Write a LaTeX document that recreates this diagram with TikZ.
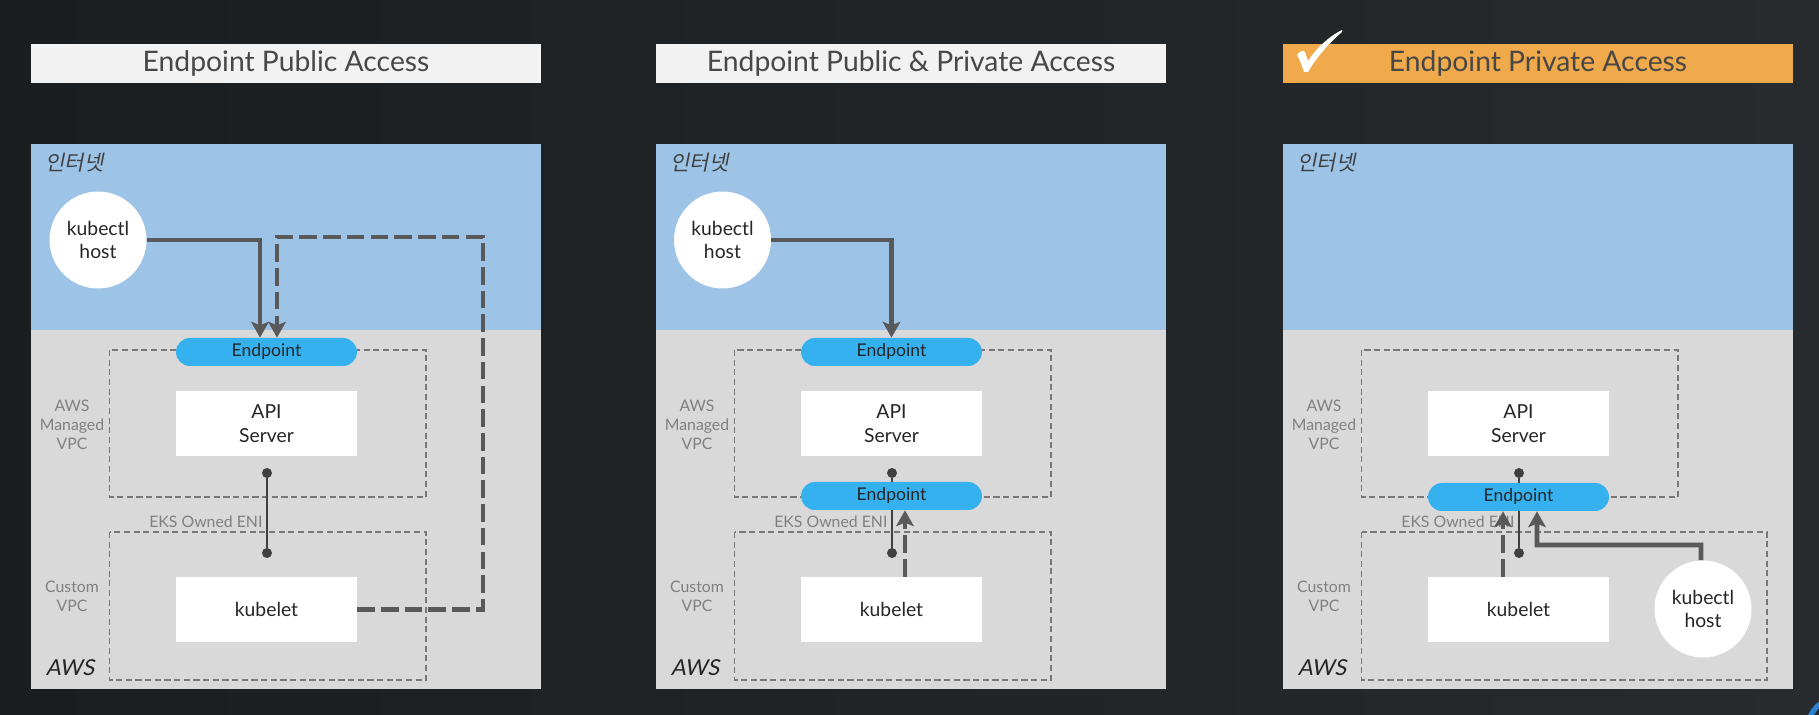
\documentclass[tikz,border=0pt]{standalone}
\usepackage{fontspec}
\setmainfont{Lato}
\newfontfamily\krfont{Noto Sans CJK KR}[FakeSlant=0.2]
\newfontfamily\slfont{Lato}[FakeSlant=0.2]
\usetikzlibrary{arrows.meta,shapes.misc}
\definecolor{bgleft}{HTML}{1B1D1F}
\definecolor{bgright}{HTML}{272B2D}
\definecolor{titlegray}{HTML}{F2F2F2}
\definecolor{titleorange}{HTML}{F0A94B}
\definecolor{skyblue}{HTML}{9DC3E6}
\definecolor{awsgray}{HTML}{D9D9D9}
\definecolor{pillblue}{HTML}{36B1EF}
\definecolor{arrowgray}{HTML}{595959}
\definecolor{boxline}{HTML}{777777}
\definecolor{labelgray}{HTML}{808080}
\definecolor{textdark}{HTML}{262626}
\definecolor{dotgray}{HTML}{404040}
\definecolor{ringblue}{HTML}{2F7FD0}

\begin{document}
\begin{tikzpicture}[x=0.02cm,y=-0.02cm,
    titlebar/.style={fill=titlegray,minimum width=10.2cm,minimum height=0.78cm,inner sep=0pt,
        text=textdark!85,font=\fontsize{16.1}{18}\selectfont},
    vpc/.style={draw=boxline,line width=0.6pt,dash pattern=on 3.5pt off 2pt},
    graylabel/.style={text=labelgray,align=center,inner sep=0pt,font=\fontsize{9}{10.8}\selectfont},
    whitebox/.style={fill=white,minimum width=3.62cm,minimum height=1.3cm,inner sep=0pt,
        align=center,text=textdark,font=\fontsize{11}{13.6}\selectfont},
    endpoint/.style={rounded rectangle,fill=pillblue,minimum width=3.62cm,minimum height=0.56cm,
        inner sep=0pt,text=textdark,font=\fontsize{10}{12}\selectfont},
    host/.style={circle,fill=white,minimum size=1.94cm,inner sep=0pt,align=center,
        text=textdark,font=\fontsize{11}{13}\selectfont},
    dot/.style={circle,fill=dotgray,minimum size=0.2cm,inner sep=0pt},
    link/.style={draw=dotgray,line width=0.6pt},
    flow/.style={draw=arrowgray,line width=2.8pt,-{Stealth[length=9pt,width=10pt,inset=2pt]}},
    flowdash/.style={flow,dash pattern=on 10pt off 3.5pt}]
    \useasboundingbox (0,0) rectangle (1819,715);
    \fill[left color=bgleft,right color=bgright] (0,0) rectangle (1819,715);
    \draw[ringblue,line width=3pt] (1838,728) circle (30);

    \node[titlebar] (t1) at (286,63.5) {Endpoint Public Access};
    \node[titlebar] (t2) at (911,63.5) {Endpoint Public \& Private Access};
    \node[titlebar,fill=titleorange] (t3) at (1538,63.5) {Endpoint Private Access};
    \fill[white] (1297,55) .. controls (1300,51) and (1303,50) .. (1305,52) -- (1308,61)
        .. controls (1318,46) and (1330,36) .. (1342,30) -- (1342,32)
        .. controls (1329,43) and (1316,58) .. (1308,72) -- (1304,72)
        .. controls (1302,66) and (1300,60) .. cycle;

    \foreach \p/\dx/\w in {1/31/395,2/656/395,3/1283/484} {
        \begin{scope}[shift={(\dx,0)}]
            \fill[skyblue] (0,144) rectangle (510,330);
            \fill[awsgray] (0,330) rectangle (510,689);
            \node[anchor=west,inner sep=0pt,text=dotgray,font=\krfont\fontsize{12}{14}\selectfont] (net\p) at (14,163) {인터넷};
            \draw[vpc] (78.5,350) rectangle (395,497);
            \draw[vpc] (78.5,532) rectangle (\w,680);
            \node[graylabel] (mvpc\p) at (41,425) {AWS\\Managed\\VPC};
            \node[graylabel] (cvpc\p) at (41,596) {Custom\\VPC};
            \node[graylabel,anchor=west] (eni\p) at (118,522) {EKS Owned ENI};
            \node[inner sep=0pt,text=textdark,font=\slfont\fontsize{12.5}{14}\selectfont] (aws\p) at (39,668) {AWS};
            \node[whitebox] (api\p) at (235.5,423.5) {API\\Server};
            \node[whitebox] (kub\p) at (235.5,609.5) {kubelet};
            \node[dot] (dta\p) at (236,473) {};
            \node[dot] (dtb\p) at (236,553) {};
            \draw[link] (dta\p) -- (dtb\p);
        \end{scope}
    }

    \node[endpoint] (ep1) at (266.5,352) {Endpoint};
    \node[endpoint] (ep2) at (891.5,352) {Endpoint};
    \node[endpoint] (ep2b) at (891.5,496) {Endpoint};
    \node[endpoint] (ep3) at (1518.5,497) {Endpoint};

    \node[host] (host1) at (98,240) {kubectl\\host};
    \node[host] (host2) at (722.5,240) {kubectl\\host};
    \node[host] (host3) at (1703,609) {kubectl\\host};

    \coordinate (turn1) at (483,237);
    \coordinate (bend3) at (1537,545);
    \draw[flow] (host1.east) -| ([xshift=-0.13cm]ep1.north);
    \draw[flowdash] (kub1.east) -| (turn1) -| ([xshift=0.21cm]ep1.north);
    \draw[flow] (host2.east) -| (ep2.north);
    \draw[flowdash] ([xshift=0.27cm]kub2.north) -- ([xshift=0.27cm]ep2b.south);
    \draw[flowdash] ([xshift=-0.31cm]kub3.north) -- ([xshift=-0.31cm]ep3.south);
    \draw[flow] ([xshift=-0.04cm]host3.north) |- (bend3) -- ([xshift=0.37cm]ep3.south);
\end{tikzpicture}
\end{document}
